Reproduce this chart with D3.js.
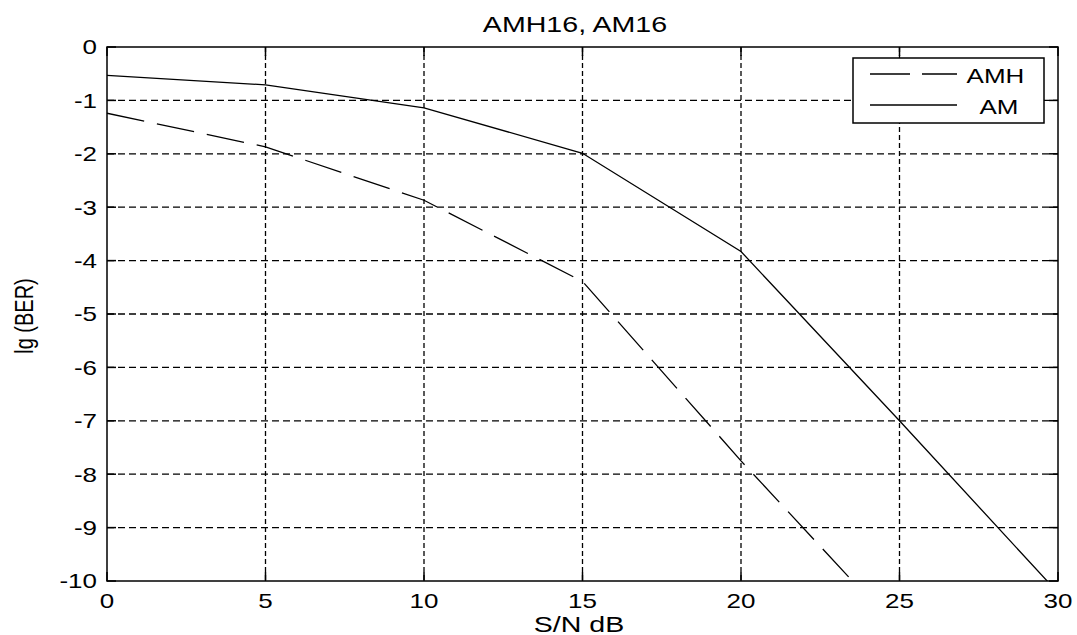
<!DOCTYPE html>
<html>
<head>
<meta charset="utf-8">
<script src="https://cdn.jsdelivr.net/npm/d3@7"></script>
<style>
  html, body { margin: 0; padding: 0; background: #fff; }
  svg { display: block; }
  text { font-family: "Liberation Sans", Arial, sans-serif; fill: #000; }
</style>
</head>
<body>
<svg id="chart" width="1077" height="635"></svg>
<script>
// ---- data ----
const snr_am  = [0, 5, 10, 15, 20, 25, 30];
const ber_am  = [-0.53, -0.71, -1.14, -1.99, -3.83, -7.0, -10.22];
const snr_amh = [0, 5, 10, 15, 20, 25];
const ber_amh = [-1.24, -1.87, -2.87, -4.39, -7.75, -10.95];
const xTicks = [0, 5, 10, 15, 20, 25, 30];
const yTicks = [0, -1, -2, -3, -4, -5, -6, -7, -8, -9, -10];
const seriesNames = ["AMH", "AM"];
const titleText = "AMH16, AM16";
const xLabelText = "S/N dB";
const yLabelText = "lg (BER)";

// ---- layout ----
const L = 107, R = 1058, T = 47, B = 581;
const SX = 1.3; // horizontal text stretch
const svg = d3.select("#chart");
const x = d3.scaleLinear().domain([0, 30]).range([L, R]);
const y = d3.scaleLinear().domain([-10, 0]).range([B, T]);

function txt(g, px, py, s, size, anchor, extra) {
  return g.append("text")
    .attr("transform", `translate(${px},${py}) scale(${SX},1)` + (extra || ""))
    .attr("text-anchor", anchor)
    .attr("font-size", size)
    .text(s);
}

// clip
svg.append("defs").append("clipPath").attr("id", "clip")
  .append("rect").attr("x", L).attr("y", T).attr("width", R - L).attr("height", B - T);

// grid
const grid = svg.append("g");
grid.selectAll(".gy").data(yTicks.slice(1, -1)).enter().append("line")
  .attr("x1", L).attr("x2", R).attr("y1", d => y(d)).attr("y2", d => y(d))
  .attr("stroke", "#000").attr("stroke-width", 1.3).attr("stroke-dasharray", "7,4");
grid.selectAll(".gx").data(xTicks.slice(1, -1)).enter().append("line")
  .attr("y1", T).attr("y2", B).attr("x1", d => x(d)).attr("x2", d => x(d))
  .attr("stroke", "#000").attr("stroke-width", 1.3).attr("stroke-dasharray", "5,3");

// curves
const line = d3.line().x(d => x(d[0])).y(d => y(d[1]));
const plot = svg.append("g").attr("clip-path", "url(#clip)");
plot.append("path").datum(snr_amh.map((s, i) => [s, ber_amh[i]]))
  .attr("d", line).attr("fill", "none").attr("stroke", "#000")
  .attr("stroke-width", 1.3).attr("stroke-dasharray", "38,13");
plot.append("path").datum(snr_am.map((s, i) => [s, ber_am[i]]))
  .attr("d", line).attr("fill", "none").attr("stroke", "#000")
  .attr("stroke-width", 1.3);

// axes box and ticks
const ax = svg.append("g").attr("stroke", "#000").attr("stroke-width", 1.5);
ax.append("rect").attr("x", L).attr("y", T).attr("width", R - L).attr("height", B - T).attr("fill", "none");
const tl = 9;
xTicks.forEach(t => {
  ax.append("line").attr("x1", x(t)).attr("x2", x(t)).attr("y1", B).attr("y2", B - tl);
  ax.append("line").attr("x1", x(t)).attr("x2", x(t)).attr("y1", T).attr("y2", T + tl);
});
yTicks.forEach(t => {
  ax.append("line").attr("y1", y(t)).attr("y2", y(t)).attr("x1", L).attr("x2", L + tl);
  ax.append("line").attr("y1", y(t)).attr("y2", y(t)).attr("x1", R).attr("x2", R - tl);
});

// tick labels
const lab = svg.append("g");
xTicks.forEach(t => txt(lab, x(t), 608, String(t), 20, "middle"));
yTicks.forEach(t => txt(lab, 97, y(t) + 7.3, String(t), 20, "end"));

// title & axis labels
txt(svg, 575, 31.5, titleText, 22, "middle");
txt(svg, 579, 631.5, xLabelText, 22, "middle");
svg.append("text")
  .attr("transform", `translate(33,316) scale(${SX},1) rotate(-90)`)
  .attr("text-anchor", "middle").attr("font-size", 20).text(yLabelText);

// legend
const lg = svg.append("g");
lg.append("rect").attr("x", 853).attr("y", 58).attr("width", 191).attr("height", 65)
  .attr("fill", "#fff").attr("stroke", "#000").attr("stroke-width", 1.5);
lg.append("line").attr("x1", 870).attr("x2", 957).attr("y1", 74).attr("y2", 74)
  .attr("stroke", "#000").attr("stroke-width", 1.3).attr("stroke-dasharray", "40,12");
lg.append("line").attr("x1", 870).attr("x2", 957).attr("y1", 105).attr("y2", 105)
  .attr("stroke", "#000").attr("stroke-width", 1.3);
txt(lg, 995.5, 83, seriesNames[0], 20, "middle");
txt(lg, 999, 114, seriesNames[1], 20, "middle");
</script>
</body>
</html>
